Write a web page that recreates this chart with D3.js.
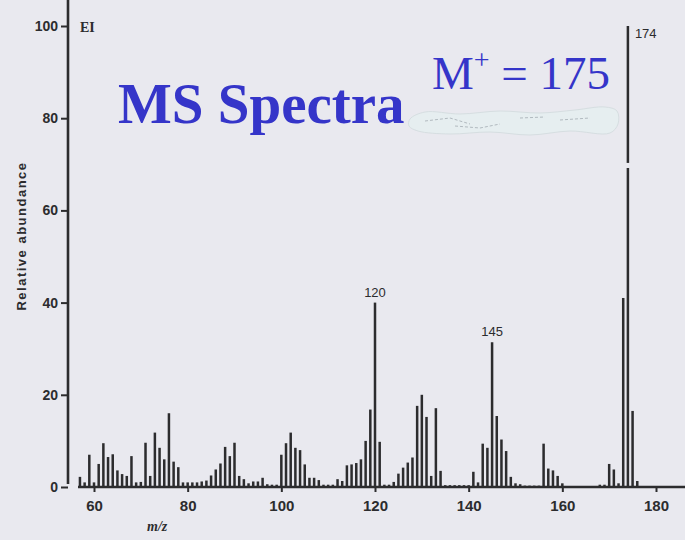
<!DOCTYPE html>
<html><head><meta charset="utf-8">
<script src="https://cdn.jsdelivr.net/npm/d3@7"></script>
<style>
html,body{margin:0;padding:0;background:#e9e9ef;}
svg{display:block;}
</style></head><body>
<svg id="c" width="685" height="540"></svg>
<script>
// ---- data ----
const mz = [57,58,59,60,61,62,63,64,65,66,67,68,69,70,
  71,72,73,74,75,76,77,78,79,80,81,82,83,84,85,86,87,88,89,90,
  91,92,93,94,95,96,97,98,99,100,101,102,103,104,105,106,107,108,109,110,
  111,112,113,114,115,116,117,118,119,120,121,122,123,124,125,126,127,128,129,130,
  131,132,133,134,135,136,137,138,139,140,141,142,143,144,145,146,147,148,149,150,
  151,152,153,154,155,156,157,158,159,160,168,169,170,171,172,173,174,175,176];
const abundance = [2.2,1,7,1,5,9.5,6.5,7.1,3.6,2.8,2.4,6.7,1,1.1,
  9.6,2.4,11.8,8.5,6,16,5.5,4.3,1,1,1,1,1.2,1.4,2.5,3.8,5.1,8.7,6.7,9.6,
  2.4,1.7,0.8,1.2,1.2,2,0.6,0.5,0.5,7,9.5,11.8,8.5,8,4.9,2,2,1.5,0.5,0.5,
  0.5,1.7,1.3,4.7,4.9,5.2,6,10,16.8,40,9.8,0.5,0.5,1.1,2.9,4.2,5.3,6.4,17.6,20,
  15.2,2.4,17.1,3.5,0.4,0.4,0.4,0.4,0.4,0.4,3.3,1,9.4,8.5,31.4,15.4,10.3,7.8,2.2,0.8,
  0.6,0.3,0.3,0.3,0.3,9.4,4,3.6,2.4,0.8,0.5,0.5,5,3.8,0.8,41,100,16.5,1.3];
const xTicks = [60,80,100,120,140,160,180];
const yTicks = [0,20,40,60,80,100];
const peakLabels = [120,145,174];
const titleText = "MS Spectra";
const ionText = ["M", "+", " = 175"];
const ionLabel = "EI";
const xLabel = "m/z";
const yLabel = "Relative abundance";

// ---- drawing ----
const ink = "#2c2c2e";
const svg = d3.select("#c");
const x = d3.scaleLinear().domain([60,180]).range([94,656]);
const y = d3.scaleLinear().domain([0,100]).range([487,26]);

// y axis
const yAxisX = 68;
svg.append("line").attr("x1",yAxisX).attr("x2",yAxisX).attr("y1",0).attr("y2",y(0)-3)
  .attr("stroke",ink).attr("stroke-width",2.6);
const ya = svg.append("g").attr("transform",`translate(${yAxisX},0)`)
  .call(d3.axisLeft(y).tickValues(yTicks).tickSize(7).tickPadding(3));
ya.select(".domain").remove();
ya.selectAll(".tick line").attr("stroke",ink).attr("stroke-width",2);
ya.selectAll(".tick text").attr("fill",ink)
  .style("font-family","'Liberation Sans', Arial, sans-serif")
  .style("font-weight","bold").style("font-size","14px");

// x axis baseline
const xa = svg.append("g").attr("transform",`translate(0,${y(0)})`)
  .call(d3.axisBottom(x).tickValues(xTicks).tickSize(5).tickPadding(8));
xa.select(".domain").remove();
svg.append("line").attr("x1",78).attr("x2",685).attr("y1",y(0)).attr("y2",y(0))
  .attr("stroke",ink).attr("stroke-width",2.6);
xa.selectAll(".tick line").attr("stroke",ink).attr("stroke-width",2);
xa.selectAll(".tick text").attr("fill",ink)
  .style("font-family","'Liberation Sans', Arial, sans-serif")
  .style("font-weight","bold").style("font-size","15px");

// bars
const data = mz.map((m,i)=>({m, v: abundance[i]}));
svg.append("g").selectAll("rect").data(data).join("rect")
  .attr("x", d=>x(d.m)-1.25).attr("width",2.5)
  .attr("y", d=>y(d.v)).attr("height", d=>y(0)-y(d.v))
  .attr("fill", ink);

// small break in the base peak line
svg.append("rect").attr("x",x(174)-2).attr("width",4)
  .attr("y",y(70.3)).attr("height",y(69.2)-y(70.3)).attr("fill","#e9e9ef");

// peak labels
const pl = svg.append("g").style("font-family","'Liberation Sans', Arial, sans-serif")
  .style("font-size","13px").attr("fill",ink);
peakLabels.forEach(m=>{
  const v = abundance[mz.indexOf(m)];
  if (m===174) {
    pl.append("text").attr("x",x(m)+7).attr("y",y(v)+12).text(m);
  } else {
    pl.append("text").attr("x",x(m)).attr("y",y(v)-6).attr("text-anchor","middle").text(m);
  }
});

// EI
svg.append("text").attr("x",80).attr("y",32).text(ionLabel)
  .style("font-family","'Liberation Serif', serif").style("font-weight","bold")
  .style("font-size","14px").attr("fill",ink);

// axis titles
svg.append("text").attr("x",147).attr("y",531).text(xLabel)
  .style("font-family","'Liberation Serif', serif").style("font-style","italic").style("font-weight","bold")
  .style("font-size","14px").attr("fill",ink);
svg.append("text").attr("transform","translate(26,236) rotate(-90)").attr("text-anchor","middle")
  .text(yLabel).style("font-family","'Liberation Sans', Arial, sans-serif").style("font-weight","bold")
  .style("font-size","13px").attr("fill",ink).style("letter-spacing","1.5px");

// white-out blob under the ion label
const blob = [[410,119],[425,112],[460,114],[500,111],[540,113],[575,110],[605,107],[617,111],[618,124],[610,133],[570,131],[530,135],[490,132],[450,134],[418,131],[409,126]];
svg.append("path").attr("d", d3.line().curve(d3.curveCatmullRomClosed)(blob))
  .attr("fill","#e6eef0").attr("stroke","#d6dee1").attr("stroke-width",1);
[[[425,121],[450,118],[470,124]],[[455,126],[480,128],[500,124]],[[520,118],[545,117]],[[560,120],[590,118]]].forEach(s=>{
  svg.append("path").attr("d", d3.line()(s)).attr("fill","none")
    .attr("stroke","#9aa3aa").attr("stroke-width",1).attr("stroke-dasharray","3,2").attr("opacity",0.7);
});

// title
svg.append("text").attr("x",118).attr("y",123).text(titleText)
  .style("font-family","'Liberation Serif', 'Times New Roman', serif").style("font-weight","bold")
  .style("font-size","57px").attr("fill","#3535c9");
const ion = svg.append("text").attr("x",432).attr("y",89)
  .style("font-family","'Liberation Serif', 'Times New Roman', serif")
  .style("font-size","47px").attr("fill","#3535c9");
ion.append("tspan").text(ionText[0]);
ion.append("tspan").text(ionText[1]).attr("dy",-20).style("font-size","28px");
ion.append("tspan").text(ionText[2]).attr("dy",20);
</script>
</body></html>
